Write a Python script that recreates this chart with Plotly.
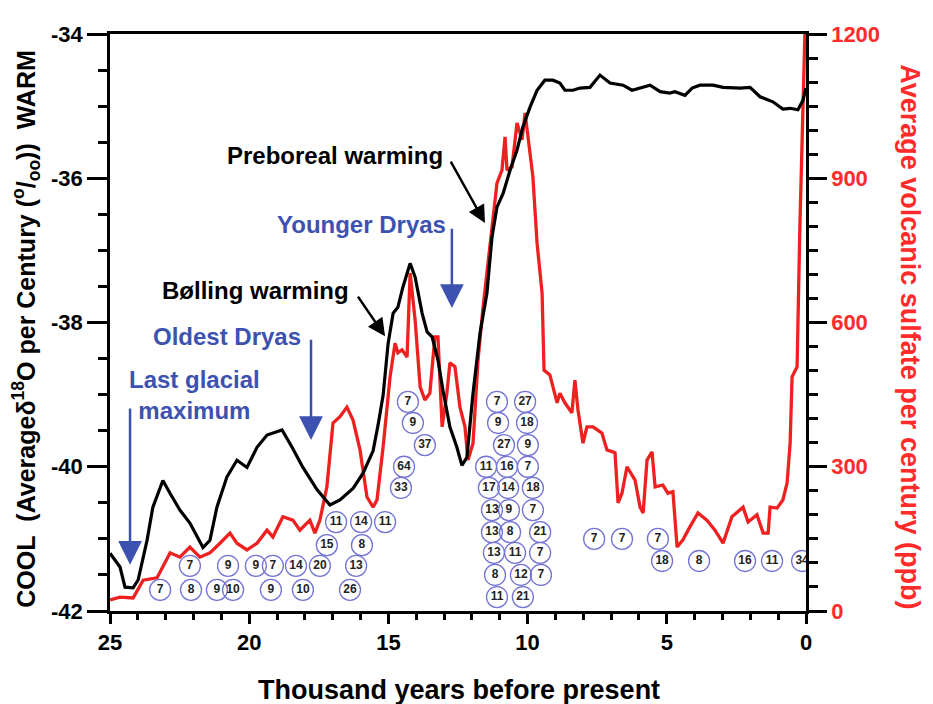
import plotly.graph_objects as go

# ---------------- data ----------------
# delta 18O (per mil), black curve
d18o_age = [25.00, 24.64, 24.46, 24.17, 23.99, 23.67, 23.46, 23.10, 22.84, 22.49, 22.13, 21.66, 21.41,
            21.16, 20.80, 20.44, 20.08, 19.72, 19.36, 19.15, 18.82, 18.46, 18.07, 17.56, 17.10, 16.74,
            16.27, 15.91, 15.55, 15.37, 15.19, 15.01, 14.83, 14.66, 14.48, 14.22, 14.04, 13.79, 13.61,
            13.43, 13.22, 13.04, 12.79, 12.54, 12.36, 12.18, 11.96, 11.71, 11.46, 11.28, 11.10, 10.88,
            10.63, 10.38, 10.17, 9.91, 9.66, 9.38, 9.09, 8.84, 8.66, 8.37, 8.12, 7.76, 7.40, 7.04,
            6.57, 6.25, 5.96, 5.60, 5.24, 4.89, 4.71, 4.35, 4.09, 3.81, 3.34, 2.98, 2.37, 2.01,
            1.65, 1.19, 0.83, 0.57, 0.29, 0.11, 0.00]
d18o_val = [-41.20, -41.39, -41.67, -41.68, -41.57, -41.02, -40.56, -40.19, -40.37, -40.60, -40.78, -41.12, -41.02,
            -40.56, -40.14, -39.91, -40.01, -39.73, -39.56, -39.53, -39.49, -39.73, -40.01, -40.32, -40.53, -40.46,
            -40.30, -40.09, -39.78, -39.42, -39.01, -38.29, -37.87, -37.79, -37.51, -37.18, -37.37, -37.87, -38.13,
            -38.20, -38.52, -38.94, -39.45, -39.73, -39.98, -39.87, -38.98, -38.15, -37.59, -36.82, -36.40, -36.21,
            -35.89, -35.61, -35.29, -35.01, -34.78, -34.64, -34.64, -34.68, -34.78, -34.78, -34.75, -34.74, -34.57, -34.68,
            -34.71, -34.78, -34.75, -34.71, -34.80, -34.82, -34.80, -34.85, -34.75, -34.71, -34.71, -34.74, -34.75, -34.74,
            -34.87, -34.94, -35.04, -35.03, -35.05, -34.92, -34.75]

# volcanic sulfate (ppb per century), red curve
sulf_age = [25.00, 24.64, 24.17, 23.81, 23.31, 23.10, 22.84, 22.49, 22.13, 21.77, 21.41, 21.05, 20.69,
            20.44, 20.08, 19.72, 19.36, 19.15, 18.79, 18.43, 18.18, 17.82, 17.64, 17.46, 17.21, 16.99,
            16.74, 16.49, 16.27, 16.02, 15.77, 15.55, 15.41, 15.19, 14.94, 14.76, 14.66, 14.51, 14.33,
            14.22, 14.04, 13.86, 13.69, 13.51, 13.33, 13.22, 13.07, 12.90, 12.79, 12.61, 12.43, 12.25,
            12.14, 11.96, 11.78, 11.60, 11.35, 11.10, 10.92, 10.81, 10.74, 10.56, 10.38, 10.20, 10.09,
            9.99, 9.81, 9.66, 9.48, 9.41, 9.20, 8.94, 8.84, 8.66, 8.41, 8.30, 8.19, 8.01, 7.87,
            7.65, 7.33, 7.15, 6.86, 6.75, 6.61, 6.43, 6.14, 5.96, 5.85, 5.71, 5.53, 5.42, 5.14,
            4.96, 4.78, 4.63, 4.42, 4.17, 3.88, 3.56, 3.27, 2.98, 2.66, 2.26, 2.08, 1.76, 1.54,
            1.36, 1.29, 1.04, 0.83, 0.68, 0.57, 0.50, 0.32, 0.22, 0.11, 0.04]
sulf_val = [23, 29, 27, 64, 69, 92, 121, 112, 133, 112, 121, 141, 162,
            141, 127, 141, 168, 154, 196, 189, 168, 189, 162, 189, 258, 391,
            404, 424, 397, 335, 237, 216, 231, 341, 487, 557, 537, 543, 528,
            703, 605, 466, 439, 453, 570, 570, 383, 453, 516, 508, 424, 383,
            314, 349, 522, 632, 757, 890, 917, 986, 917, 924, 1015, 980, 1036,
            986, 903, 765, 661, 501, 491, 433, 453, 433, 412, 480, 418, 349, 383,
            383, 370, 335, 329, 225, 245, 300, 272, 216, 204, 314, 331, 258, 262,
            245, 248, 133, 148, 175, 204, 189, 168, 141, 196, 216, 185, 200, 162,
            162, 216, 214, 231, 266, 349, 487, 508, 799, 1077, 1200]

# circled numbers (eruption counts) : label, age, level on sulfate scale
erupt_label = ["11", "14", "11", "15", "8",
               "7", "9", "9", "7", "14", "20", "13",
               "7", "8", "9", "10", "9", "10", "26",
               "7", "9", "37", "64", "33",
               "7", "9", "27", "11", "16", "17", "14", "13", "9", "13", "8", "13", "11", "8", "12", "11", "21",
               "27", "18", "9", "7", "18", "7", "21", "7", "7",
               "7", "7", "7", "18", "8", "16", "11", "34"]
erupt_age = [16.88, 15.98, 15.12, 17.21, 15.95,
             22.13, 20.76, 19.76, 19.15, 18.32, 17.46, 16.16,
             23.20, 22.09, 21.16, 20.58, 19.22, 18.07, 16.38,
             14.30, 14.12, 13.69, 14.44, 14.55,
             11.10, 11.06, 10.85, 11.49, 10.74, 11.39, 10.70, 11.28, 10.67, 11.28, 10.63, 11.21, 10.45, 11.17, 10.24, 11.10, 10.17,
             10.09, 10.02, 9.99, 9.99, 9.81, 9.81, 9.55, 9.55, 9.52,
             7.61, 6.61, 5.32, 5.17, 3.84, 2.19, 1.22, 0.14]
erupt_level = [185, 185, 185, 137, 137,
               94, 94, 94, 94, 94, 94, 94,
               44, 44, 44, 44, 44, 44, 44,
               435, 391, 345, 300, 256,
               435, 391, 345, 300, 300, 256, 256, 210, 210, 164, 164, 121, 121, 75, 75, 29, 29,
               435, 391, 345, 300, 256, 210, 164, 121, 75,
               150, 150, 150, 104, 104, 104, 104, 104]

x_ticks = [25, 20, 15, 10, 5, 0]
left_ticks = [-42, -40, -38, -36, -34]
left_tick_text = ["-42", "-40", "-38", "-36", "-34"]
right_ticks = [0, 300, 600, 900, 1200]

# ---------------- styling ----------------
FONT = "Liberation Sans, Arial, sans-serif"
RED = "#ee2020"
RED_TXT = "#ff2a2a"
BLUE = "#3d52b0"
CIRC = "#7474d4"

fig = go.Figure()

fig.add_trace(go.Scatter(x=sulf_age, y=sulf_val, mode="lines", yaxis="y",
                         line=dict(color=RED, width=3.3), hoverinfo="skip"))
fig.add_trace(go.Scatter(x=erupt_age, y=erupt_level, mode="markers+text", yaxis="y",
                         text=erupt_label, textposition="middle center",
                         textfont=dict(family=FONT, size=12, color="#222222", weight="bold"),
                         marker=dict(size=21, color="rgba(255,255,255,0)",
                                     line=dict(color=CIRC, width=1.3)),
                         hoverinfo="skip"))
fig.add_trace(go.Scatter(x=d18o_age, y=d18o_val, mode="lines", yaxis="y2",
                         line=dict(color="black", width=3.2), hoverinfo="skip"))

axis_common = dict(showgrid=False, zeroline=False, showline=True, linecolor="black",
                   linewidth=2.5, ticks="outside", tickcolor="black", tickwidth=2.5)

# page body has an 8px margin, so the figure is shifted by 8px right and down
fig.update_layout(
    width=933, height=704,
    margin=dict(l=102, r=135, t=26, b=101),
    paper_bgcolor="white", plot_bgcolor="white",
    showlegend=False,
    xaxis=dict(range=[25, 0], tickvals=x_ticks, ticklen=10, mirror=True,
               minor=dict(dtick=1, ticklen=6, tickwidth=2.5, ticks="outside", tickcolor="black"),
               tickfont=dict(family=FONT, size=22, color="black", weight="bold"),
               **axis_common),
    yaxis=dict(range=[0, 1200], side="right", tickvals=right_ticks, ticklen=18,
               minor=dict(dtick=50, ticklen=9, tickwidth=2.5, ticks="outside", tickcolor="black"),
               tickfont=dict(family=FONT, size=22, color=RED_TXT, weight="bold"),
               **axis_common),
    yaxis2=dict(range=[-42, -34], side="left", overlaying="y", tickvals=left_ticks,
                ticktext=left_tick_text, ticklen=20,
                minor=dict(dtick=0.5, ticklen=9, tickwidth=2.5, ticks="outside", tickcolor="black"),
                tickfont=dict(family=FONT, size=22, color="black", weight="bold"),
                **axis_common),
)

ann = []
# axis titles
ann.append(dict(text="Thousand years before present", xref="paper", yref="paper", x=0.501, y=-0.137,
                xanchor="center", yanchor="middle", showarrow=False,
                font=dict(family=FONT, size=27, color="black", weight="bold")))
ann.append(dict(text="COOL\u00a0\u00a0(Average\u03b4<sup>18</sup>O per Century (<sup>o</sup>/<sub>oo</sub>))\u00a0\u00a0WARM",
                xref="paper", yref="paper", x=-0.12, y=0.49, textangle=-90, showarrow=False,
                xanchor="center", yanchor="middle",
                font=dict(family=FONT, size=25, color="black", weight="bold")))
ann.append(dict(text="Average volcanic sulfate per century (ppb)", xref="paper", yref="paper",
                x=1.149, y=0.475, textangle=90, showarrow=False, xanchor="center", yanchor="middle",
                font=dict(family=FONT, size=27, color=RED_TXT, weight="bold")))

# text labels
labels = [("Preboreal warming", 16.92, -35.68, "black"),
          ("Younger Dryas", 15.95, -36.64, BLUE),
          ("B\u00f8lling warming", 19.79, -37.55, "black"),
          ("Oldest Dryas", 20.80, -38.19, BLUE),
          ("Last glacial<br>maximum", 21.95, -39.01, BLUE)]
for t, xx, yy, c in labels:
    ann.append(dict(text=t, x=xx, y=yy, xref="x", yref="y2", showarrow=False,
                    xanchor="center", yanchor="middle",
                    font=dict(family=FONT, size=24, color=c, weight="bold")))

# arrows (head x,y ; tail ax,ay)
arrows = [(11.53, -36.62, 12.79, -35.75, "black", 1.4),
          (15.12, -38.19, 16.13, -37.62, "black", 1.4),
          (12.72, -37.80, 12.72, -36.68, BLUE, 1.9),
          (17.78, -39.63, 17.78, -38.22, BLUE, 1.9),
          (24.28, -41.36, 24.28, -39.17, BLUE, 1.9)]
for hx, hy, tx, ty, c, s in arrows:
    ann.append(dict(text="", x=hx, y=hy, ax=tx, ay=ty, xref="x", yref="y2", axref="x", ayref="y2",
                    showarrow=True, arrowhead=2, arrowsize=s, arrowwidth=2.5, arrowcolor=c))

fig.update_layout(annotations=ann)

fig.write_html("out.html")
